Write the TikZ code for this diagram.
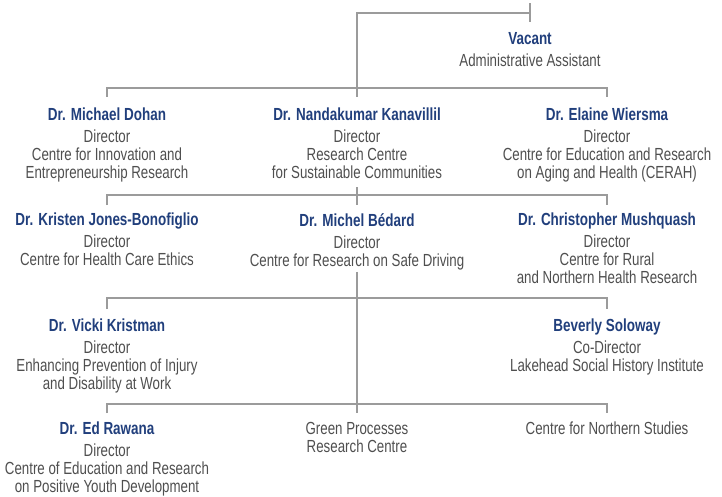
\documentclass[tikz,border=0pt]{standalone}
\usepackage{fontspec}
\setmainfont{Liberation Sans}[FakeStretch=0.76,BoldFeatures={FakeStretch=0.77}]
\definecolor{lublau}{HTML}{213F7C}
\definecolor{lugrau}{HTML}{4F4F4F}
\definecolor{linie}{HTML}{9B9B9B}
\newcommand{\wer}[1]{{\color{lublau}\bfseries #1}\\[4pt]}

\begin{document}
\begin{tikzpicture}[x=1pt,y=-1pt,
        every node/.style={inner sep=0pt,anchor=north,align=center,text=lugrau,font=\fontsize{17.5}{18}\selectfont},
        link/.style={draw=linie,line width=2.2pt}]
        \useasboundingbox (0,0) rectangle (722,497);

        \node (V) at (530, 32) {\wer{Vacant}Administrative Assistant};

        \node (D) at (107, 108) {\wer{Dr. Michael Dohan}Director\\Centre for Innovation and\\Entrepreneurship Research};
        \node (K) at (357, 108) {\wer{Dr. Nandakumar Kanavillil}Director\\Research Centre\\for Sustainable Communities};
        \node (W) at (607, 108) {\wer{Dr. Elaine Wiersma}Director\\Centre for Education and Research\\on Aging and Health (CERAH)};

        \node (J) at (107, 213) {\wer{Dr. Kristen Jones-Bonofiglio}Director\\Centre for Health Care Ethics};
        \node (B) at (357, 213) {\wer{Dr. Michel Bédard}Director\\Centre for Research on Safe Driving};
        \node (M) at (607, 213) {\wer{Dr. Christopher Mushquash}Director\\Centre for Rural\\and Northern Health Research};

        \node (VK) at (107, 319) {\wer{Dr. Vicki Kristman}Director\\Enhancing Prevention of Injury\\and Disability at Work};
        \node (S) at (607, 319) {\wer{Beverly Soloway}Co-Director\\Lakehead Social History Institute};

        \node (R) at (107, 422) {\wer{Dr. Ed Rawana}Director\\Centre of Education and Research\\on Positive Youth Development};
        \node (G) at (357, 422) {Green Processes\\Research Centre};
        \node (N) at (607, 422) {Centre for Northern Studies};

        \coordinate (oben) at (530, 13);
        \coordinate (spitze) at (530, 3);
        \coordinate (bus1) at (0, 88);
        \coordinate (bus2) at (0, 195);
        \coordinate (bus3) at (0, 298);
        \coordinate (bus4) at (0, 404);

        \draw[link] ([yshift=11pt]K.north) |- (oben);
        \draw[link] ([yshift=10pt]V.north) -- (spitze);

        \draw[link] ([yshift=11pt]D.north) -- (D.north |- bus1) -- (W.north |- bus1) -- ([yshift=11pt]W.north);
        \draw[link] ([yshift=-8pt]K.south) -- ([yshift=8pt]B.north);
        \draw[link] ([yshift=8pt]J.north) -- (J.north |- bus2) -- (M.north |- bus2) -- ([yshift=8pt]M.north);
        \draw[link] ([yshift=-2pt]B.south) -- ([yshift=9pt]G.north);
        \draw[link] ([yshift=10pt]VK.north) -- (VK.north |- bus3) -- (S.north |- bus3) -- ([yshift=10pt]S.north);
        \draw[link] ([yshift=9pt]R.north) -- (R.north |- bus4) -- (N.north |- bus4) -- ([yshift=9pt]N.north);

    \end{tikzpicture}
\end{document}
